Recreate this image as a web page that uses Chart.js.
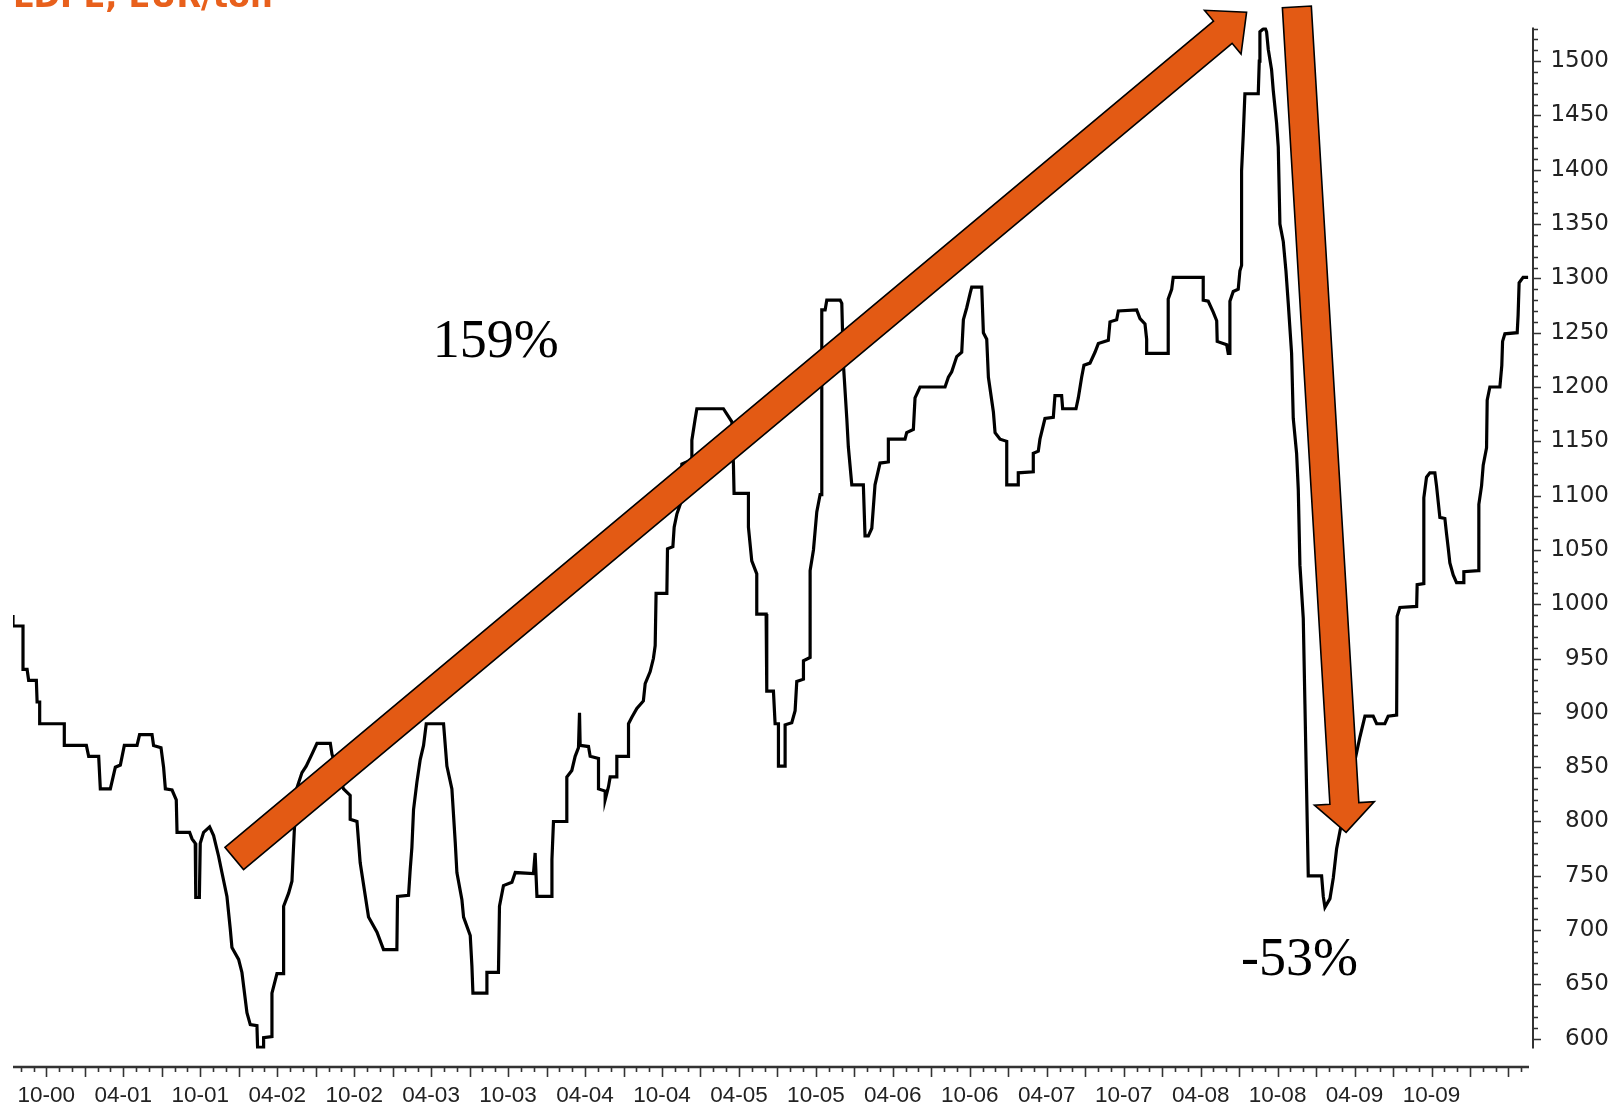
<!DOCTYPE html>
<html>
<head>
<meta charset="utf-8">
<script src="https://cdn.jsdelivr.net/npm/chart.js@4.4.1/dist/chart.umd.min.js"></script>
<style>
  html, body { margin: 0; padding: 0; background: #fff; }
  canvas { display: block; }
</style>
</head>
<body>
<canvas id="priceChart" width="1609" height="1106"></canvas>
<script>
// LDPE price, EUR/ton - vertices of the weekly step line
// x = months counted from Oct 2000, y = price
const months = [
  -2.60, -2.60, -1.82, -1.82, -1.50, -1.38, -0.78, -0.72, -0.52, -0.52,
  1.40, 1.40, 3.12, 3.30, 4.08, 4.21, 4.99, 5.38, 5.77, 6.08,
  7.07, 7.27, 8.24, 8.36, 8.94, 9.14, 9.28, 9.80, 10.13, 10.19,
  11.17, 11.36, 11.61, 11.65, 11.93, 12.00, 12.26, 12.73, 13.04, 13.43,
  13.69, 14.08, 14.34, 14.47, 14.99, 15.25, 15.64, 15.90, 16.42, 16.47,
  16.94, 16.94, 17.59, 17.59, 17.98, 18.50, 18.50, 18.89, 19.15, 19.33,
  19.54, 19.93, 20.26, 20.71, 21.10, 22.14, 22.27, 23.17, 23.69, 23.69,
  24.22, 24.47, 25.12, 25.78, 26.29, 27.33, 27.38, 28.24, 28.37, 28.50,
  28.63, 28.89, 29.15, 29.41, 29.62, 30.97, 31.23, 31.62, 31.88, 32.01,
  32.40, 32.53, 33.05, 33.18, 33.26, 34.35, 34.35, 35.25, 35.33, 35.64,
  36.30, 36.56, 37.98, 38.11, 38.25, 39.42, 39.42, 39.54, 40.58, 40.58,
  40.97, 41.23, 41.49, 41.57, 41.62, 42.27, 42.40, 43.05, 43.05, 43.57,
  43.57, 43.83, 43.96, 44.48, 44.48, 45.39, 45.39, 45.65, 46.04, 46.55,
  46.69, 47.08, 47.33, 47.47, 47.54, 48.38, 48.43, 48.85, 48.95, 49.16,
  49.42, 49.55, 50.33, 50.33, 50.58, 50.72, 52.79, 53.45, 53.57, 53.62,
  54.74, 54.74, 55.00, 55.39, 55.39, 56.12, 56.17, 56.69, 56.82, 57.08,
  57.08, 57.60, 57.60, 58.12, 58.38, 58.51, 59.03, 59.03, 59.55, 59.55,
  59.81, 60.07, 60.33, 60.46, 60.46, 60.72, 60.85, 61.89, 62.02, 62.14,
  62.41, 62.53, 62.80, 63.70, 63.83, 64.09, 64.36, 64.61, 65.00, 65.65,
  65.65, 66.95, 67.08, 67.60, 67.73, 68.12, 70.07, 70.33, 70.59, 70.98,
  71.37, 71.50, 71.76, 72.02, 72.15, 72.93, 73.06, 73.32, 73.45, 73.84,
  73.97, 74.36, 74.88, 74.88, 75.78, 75.78, 76.95, 76.95, 77.34, 77.47,
  77.86, 78.51, 78.64, 79.16, 79.24, 80.28, 80.46, 80.72, 80.90, 81.37,
  81.76, 82.02, 82.80, 82.93, 83.45, 83.58, 85.01, 85.27, 85.66, 85.79,
  85.79, 87.47, 87.47, 87.74, 87.86, 90.20, 90.20, 90.59, 90.98, 91.25,
  91.29, 92.03, 92.15, 92.28, 92.28, 92.54, 92.93, 93.06, 93.19, 93.19,
  93.32, 93.45, 94.49, 94.57, 94.62, 95.01, 95.14, 95.27, 95.53, 95.66,
  95.92, 96.05, 96.18, 96.44, 96.65, 96.83, 97.09, 97.22, 97.48, 97.61,
  97.74, 98.00, 98.13, 98.26, 98.39, 99.43, 99.56, 99.69, 100.08, 100.34,
  100.60, 100.86, 102.42, 102.81, 103.45, 103.72, 104.36, 104.62, 105.28, 105.32,
  105.53, 106.84, 106.88, 107.40, 107.40, 107.61, 107.87, 108.26, 108.39, 108.65,
  109.04, 109.17, 109.30, 109.43, 109.69, 109.95, 110.47, 110.52, 111.64, 111.69,
  111.90, 112.03, 112.29, 112.34, 112.55, 113.33, 113.48, 113.54, 113.72, 114.68,
  114.75, 114.83, 115.14, 115.53
];
const prices = [
  990, 980, 980, 940, 940, 930, 930, 910, 910, 890,
  890, 870, 870, 860, 860, 830, 830, 850, 852, 870,
  870, 880, 880, 870, 868, 850, 830, 829, 820, 790,
  790, 784, 780, 730, 730, 780, 790, 795, 787, 768,
  753, 731, 701, 684, 673, 661, 624, 613, 612, 592,
  592, 601, 602, 642, 660, 660, 722, 734, 745, 791,
  831, 845, 851, 862, 872, 872, 862, 830, 824, 802,
  800, 762, 712, 698, 682, 682, 731, 732, 756, 776,
  811, 836, 857, 870, 890, 890, 851, 830, 781, 753,
  728, 712, 695, 667, 642, 642, 661, 661, 722, 741,
  744, 753, 752, 771, 731, 731, 765, 800, 800, 841,
  847, 860, 868, 900, 870, 869, 860, 858, 830, 828,
  820, 832, 841, 841, 860, 860, 890, 896, 904, 911,
  927, 938, 950, 962, 1010, 1010, 1051, 1053, 1071, 1083,
  1092, 1129, 1133, 1151, 1170, 1180, 1180, 1168, 1129, 1102,
  1102, 1071, 1040, 1028, 991, 991, 920, 920, 890, 890,
  851, 851, 889, 891, 902, 929, 931, 948, 951, 1031,
  1050, 1085, 1101, 1101, 1271, 1271, 1280, 1280, 1277, 1222,
  1171, 1145, 1110, 1110, 1063, 1063, 1070, 1110, 1130, 1131,
  1152, 1152, 1158, 1161, 1190, 1200, 1200, 1209, 1214, 1228,
  1232, 1262, 1273, 1286, 1292, 1292, 1250, 1244, 1209, 1177,
  1158, 1152, 1150, 1110, 1110, 1121, 1122, 1139, 1141, 1152,
  1171, 1172, 1192, 1192, 1180, 1180, 1190, 1209, 1220, 1222,
  1232, 1240, 1243, 1260, 1262, 1270, 1271, 1263, 1258, 1244,
  1231, 1231, 1281, 1290, 1301, 1301, 1280, 1279, 1269, 1261,
  1242, 1239, 1231, 1231, 1279, 1288, 1290, 1307, 1312, 1399,
  1432, 1470, 1470, 1500, 1527, 1531, 1527, 1511, 1492, 1473,
  1443, 1421, 1350, 1334, 1307, 1277, 1231, 1171, 1139, 1106,
  1036, 987, 908, 829, 750, 750, 731, 721, 729, 748,
  775, 791, 878, 897, 897, 890, 890, 897, 898, 989,
  997, 998, 1018, 1019, 1098, 1117, 1121, 1121, 1109, 1080,
  1079, 1065, 1052, 1038, 1027, 1020, 1020, 1030, 1031, 1092,
  1109, 1128, 1144, 1188, 1200, 1200, 1220, 1242, 1249, 1250,
  1266, 1296, 1301, 1301
];

// x labels, one every 6 months starting at month 0 (Oct 2000)
const tickLabels = ['10-00', '04-01', '10-01', '04-02', '10-02', '04-03', '10-03',
  '04-04', '10-04', '04-05', '10-05', '04-06', '10-06', '04-07', '10-07',
  '04-08', '10-08', '04-09', '10-09'];

// annotations: [month, price] of arrow tail and tip, and text anchors
const arrowUp = [[14.65, 766], [93.58, 1545]];
const arrowDown = [[97.5, 1550], [101.34, 790]];
const notes = [
  { text: '159%', at: [35.04, 1228] },
  { text: '-53%', at: [97.7, 659] }
];

const ORANGE = '#E35A14';
const AXIS_COLOR = '#333';

// draw a block arrow from p0 to p1 (pixels)
function drawArrow(ctx, p0, p1, shaftW, headW, headL) {
    const dx = p1.x - p0.x, dy = p1.y - p0.y;
    const len = Math.hypot(dx, dy);
    const ux = dx / len, uy = dy / len;
    const nx = -uy, ny = ux;
    const neck = { x: p1.x - ux * headL, y: p1.y - uy * headL };
    const pts = [
        [p0.x + nx * shaftW / 2, p0.y + ny * shaftW / 2],
        [neck.x + nx * shaftW / 2, neck.y + ny * shaftW / 2],
        [neck.x + nx * headW / 2, neck.y + ny * headW / 2],
        [p1.x, p1.y],
        [neck.x - nx * headW / 2, neck.y - ny * headW / 2],
        [neck.x - nx * shaftW / 2, neck.y - ny * shaftW / 2],
        [p0.x - nx * shaftW / 2, p0.y - ny * shaftW / 2]
    ];
    ctx.beginPath();
    pts.forEach((p, i) => i ? ctx.lineTo(p[0], p[1]) : ctx.moveTo(p[0], p[1]));
    ctx.closePath();
    ctx.fillStyle = ORANGE;
    ctx.fill();
    ctx.lineWidth = 1.6;
    ctx.strokeStyle = '#000';
    ctx.lineJoin = 'miter';
    ctx.stroke();
}

// Axis lines, tick marks, arrows and texts
const decorPlugin = {
    id: 'decor',
    afterDraw(chart) {
        const ctx = chart.ctx;
        const xs = chart.scales.x;
        const ys = chart.scales.y;
        const area = chart.chartArea;
        ctx.save();

        // y axis (right)
        const ax = area.right + 4;
        ctx.strokeStyle = AXIS_COLOR;
        ctx.lineWidth = 2;
        ctx.beginPath();
        ctx.moveTo(ax, ys.getPixelForValue(ys.max));
        ctx.lineTo(ax, ys.getPixelForValue(ys.min));
        ctx.stroke();
        ctx.lineWidth = 1.5;
        ctx.beginPath();
        for (let v = Math.ceil(ys.min / 10) * 10; v <= ys.max; v += 10) {
            const y = Math.round(ys.getPixelForValue(v)) + 0.5;
            ctx.moveTo(ax, y);
            ctx.lineTo(ax + (v % 50 === 0 ? 8 : 5), y);
        }
        ctx.stroke();

        // x axis (bottom, detached)
        const ay = area.bottom + 18.5;
        ctx.lineWidth = 2.5;
        ctx.beginPath();
        ctx.moveTo(area.left, ay);
        ctx.lineTo(area.right, ay);
        ctx.stroke();
        ctx.lineWidth = 1.6;
        ctx.beginPath();
        for (let m = Math.ceil(xs.min); m <= xs.max; m++) {
            const x = Math.round(xs.getPixelForValue(m)) + 0.5;
            ctx.moveTo(x, ay);
            ctx.lineTo(x, ay + (m % 3 === 0 ? 10 : 5));
        }
        ctx.stroke();

        // arrows
        const px = p => ({ x: xs.getPixelForValue(p[0]), y: ys.getPixelForValue(p[1]) });
        drawArrow(ctx, px(arrowUp[0]), px(arrowUp[1]), 29, 57, 31);
        drawArrow(ctx, px(arrowDown[0]), px(arrowDown[1]), 29, 60, 29);

        // percentage notes
        ctx.fillStyle = '#000';
        ctx.font = "54px 'Liberation Serif', 'Times New Roman', serif";
        ctx.textAlign = 'center';
        ctx.textBaseline = 'alphabetic';
        notes.forEach(n => {
            const p = px(n.at);
            ctx.fillText(n.text, p.x, p.y);
        });

        // clipped title
        ctx.fillStyle = '#E8601C';
        ctx.font = "bold 32px 'DejaVu Sans', sans-serif";
        ctx.textAlign = 'left';
        ctx.fillText('LDPE, EUR/ton', 13, 7);

        ctx.restore();
    }
};

// invisible grid, only used to push the labels away from the axis
const hiddenGrid = (len) => ({
    display: true,
    drawOnChartArea: false,
    drawTicks: true,
    tickLength: len,
    color: 'transparent',
    tickColor: 'transparent'
});

const chart = new Chart(document.getElementById('priceChart'), {
    type: 'line',
    data: {
        datasets: [{
            data: months.map((m, i) => ({ x: m, y: prices[i] })),
            borderColor: '#000',
            borderWidth: 3.2,
            pointRadius: 0,
            tension: 0,
            fill: false
        }]
    },
    options: {
        responsive: false,
        animation: false,
        devicePixelRatio: 1,
        layout: { padding: { left: 13, top: 27.5, right: 0, bottom: 0 } },
        plugins: {
            legend: { display: false },
            tooltip: { enabled: false }
        },
        scales: {
            x: {
                type: 'linear',
                position: 'bottom',
                min: -2.6,
                max: 115.6,
                grid: hiddenGrid(34),
                border: { display: false },
                ticks: {
                    stepSize: 6,
                    includeBounds: false,
                    autoSkip: false,
                    maxRotation: 0,
                    padding: 0,
                    color: '#222',
                    font: { family: "'Liberation Sans', Arial, sans-serif", size: 22.5 },
                    callback: v => tickLabels[Math.round(v / 6)] || ''
                },
                afterFit: s => { s.height = 57.5; }
            },
            y: {
                type: 'linear',
                position: 'right',
                min: 591,
                max: 1531,
                grid: hiddenGrid(6),
                border: { display: false },
                ticks: {
                    stepSize: 50,
                    includeBounds: false,
                    crossAlign: 'far',
                    padding: 0,
                    color: '#222',
                    font: { family: "'DejaVu Sans', sans-serif", size: 23 },
                    callback: v => String(v)
                },
                afterFit: s => { s.width = 80; }
            }
        }
    },
    plugins: [decorPlugin]
});
</script>
</body>
</html>
